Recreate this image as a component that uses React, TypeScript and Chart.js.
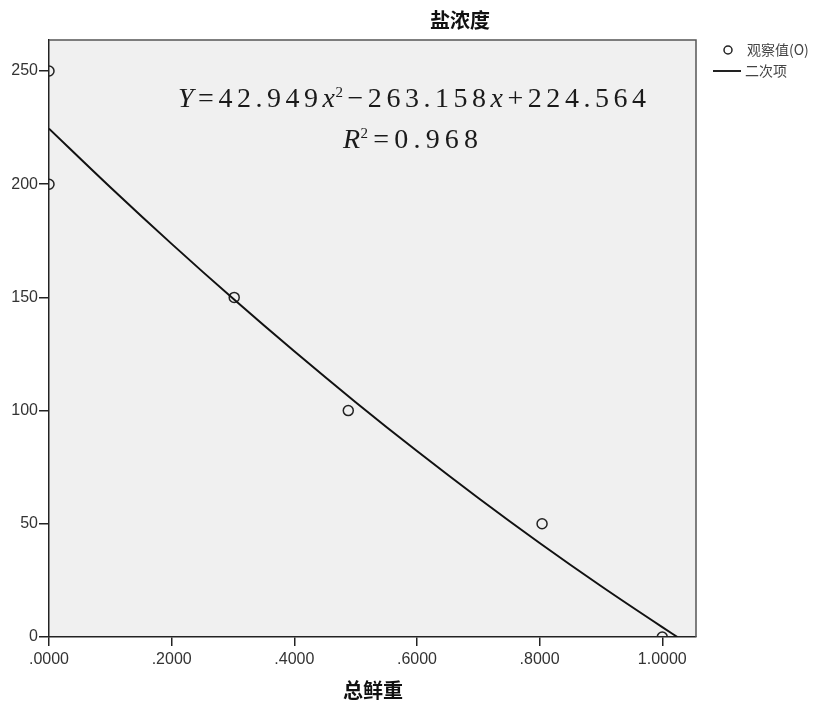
import React, { useEffect, useRef } from "react";
import { Chart, registerables } from "chart.js";

Chart.register(...registerables);

const titleText = "盐浓度";
const xTitle = "总鲜重";
const legendObserved = "观察值(O)";
const legendFit = "二次项";

const observedX = [0, 0, 0.302, 0.488, 0.804, 1.0];
const observedY = [250, 200, 150, 100, 50, 0];

const fitX = [0, 0.1, 0.2, 0.3, 0.4, 0.5, 0.6, 0.7, 0.8, 0.9, 1.0, 1.0247];
const fitY = [224.56, 198.68, 173.65, 149.48, 126.17, 103.72, 82.13, 61.4, 41.52, 22.51, 4.36, 0];

const xTicks = [0, 0.2, 0.4, 0.6, 0.8, 1.0];
const yTicks = [0, 50, 100, 150, 200, 250];

const eqLine1 = [
  { t: "Y", i: true, sup: false },
  { t: "=42.949", i: false, sup: false },
  { t: "x", i: true, sup: false },
  { t: "2", i: false, sup: true },
  { t: "\u2212263.158", i: false, sup: false },
  { t: "x", i: true, sup: false },
  { t: "+224.564", i: false, sup: false },
];
const eqLine2 = [
  { t: "R", i: true, sup: false },
  { t: "2", i: false, sup: true },
  { t: "=0.968", i: false, sup: false },
];

function drawEq(ctx: CanvasRenderingContext2D, parts: any[], x0: number, x1: number, y: number, size: number) {
  const chars: { c: string; font: string; dy: number; sup: boolean }[] = [];
  for (const p of parts) {
    for (const c of p.t) {
      const s = p.sup ? Math.round(size * 0.55) : size;
      chars.push({
        c,
        font: `${p.i ? "italic " : ""}${s}px "Liberation Serif", "Times New Roman", serif`,
        dy: p.sup ? -size * 0.36 : 0,
        sup: p.sup,
      });
    }
  }
  let natural = 0;
  const widths = chars.map((ch) => {
    ctx.font = ch.font;
    const w = ctx.measureText(ch.c).width;
    natural += w;
    return w;
  });
  // gaps: tight before superscripts, normal elsewhere
  let tight = 0;
  let normal = 0;
  for (let k = 1; k < chars.length; k++) {
    if (chars[k].sup) tight++;
    else normal++;
  }
  const tightGap = 0.5;
  const gap = (x1 - x0 - natural - tight * tightGap) / normal;
  let x = x0;
  ctx.fillStyle = "#1a1a1a";
  ctx.textBaseline = "alphabetic";
  ctx.textAlign = "left";
  chars.forEach((ch, k) => {
    if (k > 0) x += chars[k].sup ? tightGap : gap;
    ctx.font = ch.font;
    ctx.fillText(ch.c, x, y + ch.dy);
    x += widths[k];
  });
}

const decorPlugin = {
  id: "decor",
  beforeDraw(chart: any) {
    const { ctx, chartArea: a } = chart;
    ctx.save();
    ctx.fillStyle = "#f0f0f0";
    ctx.fillRect(a.left, a.top, a.right - a.left, a.bottom - a.top);
    ctx.restore();
  },
  afterDraw(chart: any) {
    const { ctx, chartArea: a } = chart;
    ctx.save();
    ctx.strokeStyle = "#555";
    ctx.lineWidth = 1.5;
    ctx.beginPath();
    ctx.moveTo(a.left, a.top);
    ctx.lineTo(a.right, a.top);
    ctx.lineTo(a.right, a.bottom);
    ctx.stroke();

    // title
    ctx.fillStyle = "#111";
    ctx.font = 'bold 20px "Noto Sans CJK SC", sans-serif';
    ctx.textAlign = "center";
    ctx.textBaseline = "middle";
    ctx.fillText(titleText, 460, 20);
    // x title
    ctx.fillText(xTitle, 373, 690);

    // legend
    ctx.strokeStyle = "#222";
    ctx.lineWidth = 1.5;
    ctx.beginPath();
    ctx.arc(728, 50, 4, 0, Math.PI * 2);
    ctx.stroke();
    ctx.lineWidth = 2;
    ctx.beginPath();
    ctx.moveTo(713, 71);
    ctx.lineTo(741, 71);
    ctx.stroke();
    ctx.fillStyle = "#444";
    ctx.font = '14px "Noto Sans CJK SC", sans-serif';
    ctx.textAlign = "left";
    ctx.fillText(legendObserved, 747, 50);
    ctx.fillText(legendFit, 745, 71);

    // equation
    drawEq(ctx, eqLine1, 178, 646, 107, 28);
    drawEq(ctx, eqLine2, 343, 478, 148, 28);
    ctx.restore();
  },
};

export default function App() {
  const ref = useRef<HTMLCanvasElement | null>(null);
  useEffect(() => {
    if (!ref.current) return;
    const chart = new Chart(ref.current, {
      type: "scatter",
      data: {
        datasets: [
          {
            label: legendFit,
            type: "line",
            data: fitX.map((x, i) => ({ x, y: fitY[i] })),
            borderColor: "#111",
            borderWidth: 2,
            pointRadius: 0,
            cubicInterpolationMode: "monotone",
            fill: false,
            clip: 0,
          } as any,
          {
            label: legendObserved,
            data: observedX.map((x, i) => ({ x, y: observedY[i] })),
            pointRadius: 5,
            pointBorderWidth: 1.5,
            pointBorderColor: "#222",
            pointBackgroundColor: "rgba(0,0,0,0)",
            clip: 0,
          } as any,
        ],
      },
      options: {
        animation: false,
        responsive: true,
        maintainAspectRatio: false,
        layout: { padding: { top: 40, right: 131, left: 0, bottom: 0 } },
        plugins: { legend: { display: false }, tooltip: { enabled: false }, title: { display: false } },
        scales: {
          x: {
            type: "linear",
            min: 0,
            max: 1.055,
            afterFit: (s: any) => {
              s.height = 77;
            },
            afterBuildTicks: (s: any) => {
              s.ticks = xTicks.map((v) => ({ value: v }));
            },
            grid: { drawOnChartArea: false, drawTicks: true, tickLength: 9, color: "#222", lineWidth: 1.5 },
            border: { display: true, color: "#222", width: 1.5 },
            ticks: {
              padding: 4,
              color: "#333",
              font: { family: '"Liberation Sans", Arial, sans-serif', size: 16 },
              callback: (v: any) => Number(v).toFixed(4).replace(/^0/, ""),
            },
          },
          y: {
            type: "linear",
            min: 0,
            max: 263.7,
            afterFit: (s: any) => {
              s.width = 49;
            },
            afterBuildTicks: (s: any) => {
              s.ticks = yTicks.map((v) => ({ value: v }));
            },
            grid: { drawOnChartArea: false, drawTicks: true, tickLength: 10, color: "#222", lineWidth: 1.5 },
            border: { display: true, color: "#222", width: 1.5 },
            ticks: {
              padding: 1,
              color: "#333",
              font: { family: '"Liberation Sans", Arial, sans-serif', size: 16 },
            },
          },
        },
      },
      plugins: [decorPlugin],
    });
    return () => chart.destroy();
  }, []);
  return (
    <div style={{ position: "absolute", left: 0, top: 0, width: 827, height: 714, background: "#fff" }}>
      <canvas ref={ref} />
    </div>
  );
}
